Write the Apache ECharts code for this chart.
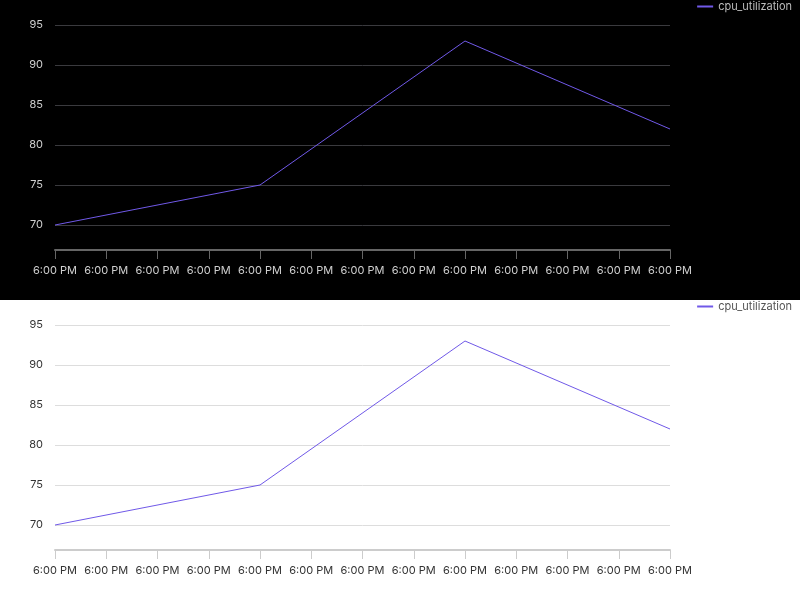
<!DOCTYPE html>
<html>
<head>
<meta charset="utf-8">
<script src="https://cdn.jsdelivr.net/npm/echarts@6/dist/echarts.min.js"></script>
<style>
  html, body { margin: 0; padding: 0; }
  .chart { width: 800px; height: 300px; }
  #dark { background: #000; }
  #light { background: #fff; }
</style>
</head>
<body>
<div id="dark" class="chart"></div>
<div id="light" class="chart"></div>
<script>
var seriesName = 'cpu_utilization';
var timeLabels = ['6:00 PM', '6:00 PM', '6:00 PM', '6:00 PM', '6:00 PM', '6:00 PM', '6:00 PM',
                  '6:00 PM', '6:00 PM', '6:00 PM', '6:00 PM', '6:00 PM', '6:00 PM'];
var cpuValues = [70, null, null, null, 75, null, null, null, 93, null, null, null, 82];
var yMin = 66.875, yMax = 95;

function makeChart(id, theme) {
    var chart = echarts.init(document.getElementById(id));
    var option = {
        backgroundColor: theme.bg,
        textStyle: { fontFamily: 'Inter' },
        animation: false,
        legend: {
            right: 3,
            top: 0,
            padding: [1, 5, 0, 5],
            icon: 'path://M0,0 L16,0 L16,2 L0,2 Z',
            itemWidth: 16,
            itemHeight: 2,
            itemGap: 4,
            textStyle: { color: theme.legend, fontSize: 11, fontFamily: 'Inter' },
            data: [seriesName]
        },
        grid: { left: 55, right: 130, top: 25, bottom: 50 },
        xAxis: {
            type: 'category',
            data: timeLabels,
            boundaryGap: false,
            axisLine: { lineStyle: { color: theme.axis, width: 2 } },
            axisTick: { length: 9, lineStyle: { color: theme.axis } },
            axisLabel: { color: theme.label, fontSize: 11, margin: 15, interval: 0 },
            splitLine: { show: false }
        },
        yAxis: {
            type: 'value',
            min: yMin,
            max: yMax,
            axisLine: { show: false },
            axisTick: { show: false },
            axisLabel: {
                color: theme.label,
                fontSize: 11,
                margin: 12,
                formatter: function (v) { return v % 5 === 0 ? v : ''; }
            },
            splitLine: { lineStyle: { color: theme.split, width: 1 } }
        },
        series: [{
            name: seriesName,
            type: 'line',
            data: cpuValues,
            connectNulls: true,
            symbol: 'none',
            lineStyle: { color: '#7059e8', width: 1 },
            itemStyle: { color: '#7059e8' }
        }]
    };
    chart.setOption(option);
}

makeChart('dark', { bg: '#000', label: '#d0d0d0', legend: '#bbbbbb', axis: '#666666', split: '#3a3a3e' });
makeChart('light', { bg: '#fff', label: '#333333', legend: '#555555', axis: '#cccccc', split: '#dddddd' });
</script>
</body>
</html>
